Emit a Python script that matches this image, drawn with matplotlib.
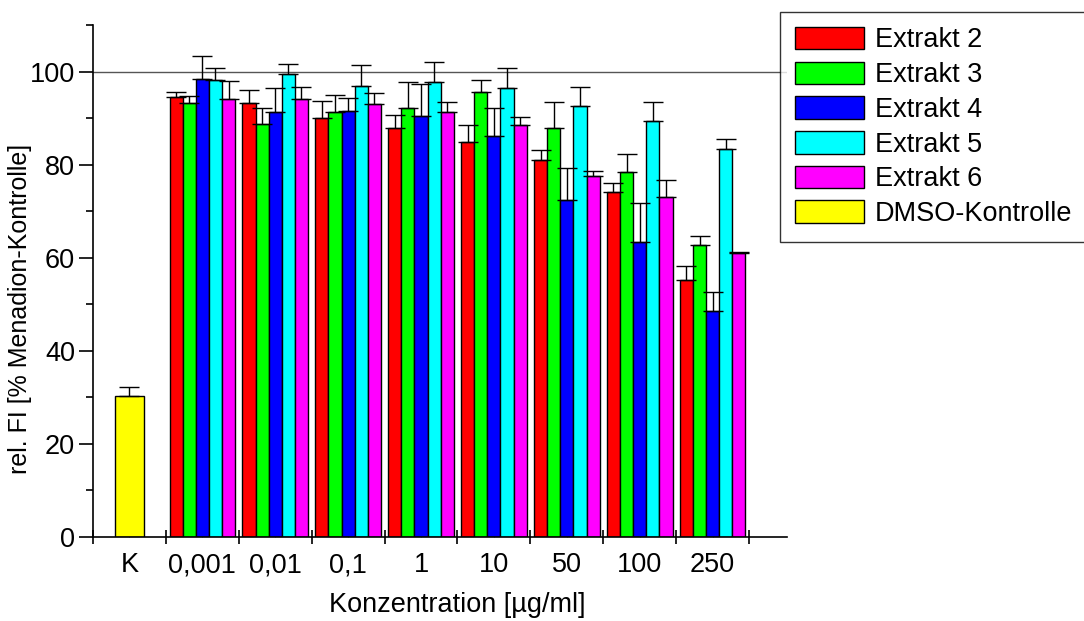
import matplotlib
matplotlib.use('Agg')
import matplotlib.pyplot as plt
import numpy as np

plt.rcParams['font.family'] = ['Liberation Sans', 'DejaVu Sans']

# concentrations (first entry = DMSO control)
categories = ['K', '0,001', '0,01', '0,1', '1', '10', '50', '100', '250']
series = ['Extrakt 2', 'Extrakt 3', 'Extrakt 4', 'Extrakt 5', 'Extrakt 6']
colors = ['#ff0000', '#00ff00', '#0000ff', '#00ffff', '#ff00ff']

extrakt2 = [94.5, 93.3, 90.0, 87.9, 84.9, 81.1, 74.2, 55.2]
extrakt3 = [93.3, 88.8, 91.3, 92.1, 95.7, 87.9, 78.5, 62.8]
extrakt4 = [98.3, 91.3, 91.5, 90.5, 86.1, 72.3, 63.4, 48.6]
extrakt5 = [98.2, 99.5, 97.0, 97.7, 96.4, 92.6, 89.3, 83.4]
extrakt6 = [94.1, 94.0, 93.1, 91.4, 88.6, 77.5, 73.0, 61.0]

err2 = [1.2, 2.7, 3.7, 2.7, 3.7, 2.0, 1.8, 3.1]
err3 = [1.4, 3.3, 3.6, 5.6, 2.4, 5.5, 3.7, 1.8]
err4 = [5.1, 5.1, 2.9, 6.9, 6.1, 6.9, 8.3, 4.1]
err5 = [2.6, 2.2, 4.4, 4.4, 4.3, 4.0, 4.1, 2.1]
err6 = [3.9, 2.6, 2.3, 2.0, 1.7, 1.1, 3.6, 0.3]

dmso_value = 30.3
dmso_err = 2.0

values = [extrakt2, extrakt3, extrakt4, extrakt5, extrakt6]
errors = [err2, err3, err4, err5, err6]

fs = 19.5

fig = plt.figure(figsize=(10.84, 6.21), dpi=100)
ax = fig.add_axes([0.0858, 0.1353, 0.6402, 0.8244])

# control bar
ax.bar(0, dmso_value, width=0.4, color='#ffff00', edgecolor='black',
       linewidth=1, label='DMSO-Kontrolle', zorder=2)
ax.errorbar(0, dmso_value, yerr=[[0], [dmso_err]], fmt='none',
            ecolor='black', elinewidth=1, capsize=7, capthick=1, zorder=3)

# extract bars
w = 0.18
x = np.arange(1, len(categories))
for i, (vals, errs) in enumerate(zip(values, errors)):
    pos = x + (i - 2) * w
    ax.bar(pos, vals, width=w, color=colors[i], edgecolor='black',
           linewidth=1, label=series[i], zorder=2)
    ax.errorbar(pos, vals, yerr=[np.zeros(len(errs)), errs], fmt='none',
                ecolor='black', elinewidth=1, capsize=7, capthick=1, zorder=3)

ax.axhline(100, color='#555555', linewidth=1, zorder=1)

# axes
ax.set_xlim(-0.5, 9.02)
ax.set_ylim(0, 110)
ax.spines['top'].set_visible(False)
ax.spines['right'].set_visible(False)
ax.spines['left'].set_linewidth(1.2)
ax.spines['bottom'].set_linewidth(1.2)

ax.set_xticks(np.arange(len(categories)))
ax.set_xticklabels(categories)
ax.set_xticks(np.arange(len(categories) + 1) - 0.5, minor=True)
ax.tick_params(axis='x', which='major', direction='in', length=3,
               width=0.8, color='#888888', labelsize=fs, pad=11)
ax.tick_params(axis='x', which='minor', direction='inout', length=10, width=1.2)

ax.set_yticks(np.arange(0, 101, 20))
ax.set_yticks(np.arange(10, 111, 20), minor=True)
ax.tick_params(axis='y', which='major', direction='out', length=10,
               width=1.2, labelsize=fs, pad=3)
ax.tick_params(axis='y', which='minor', direction='out', length=5, width=1.2)

ax.set_xlabel('Konzentration [µg/ml]', fontsize=fs)
ax.xaxis.set_label_coords(0.525, -0.108)
ax.set_ylabel('rel. FI [% Menadion-Kontrolle]', fontsize=18)
ax.yaxis.set_label_coords(-0.088, 0.445)

# legend
h, l = ax.get_legend_handles_labels()
order = [1, 2, 3, 4, 5, 0]
leg = fig.legend([h[k] for k in order], [l[k] for k in order],
                 loc='upper left', bbox_to_anchor=(780 / 1084, 1 - 12 / 621),
                 fontsize=fs, frameon=True, fancybox=False, edgecolor='black',
                 handlelength=2.55, handleheight=0.9, handletextpad=0.4,
                 labelspacing=0.3, borderpad=0.55, borderaxespad=0)
leg.get_frame().set_linewidth(1)

fig.savefig('out.png', dpi=100)
